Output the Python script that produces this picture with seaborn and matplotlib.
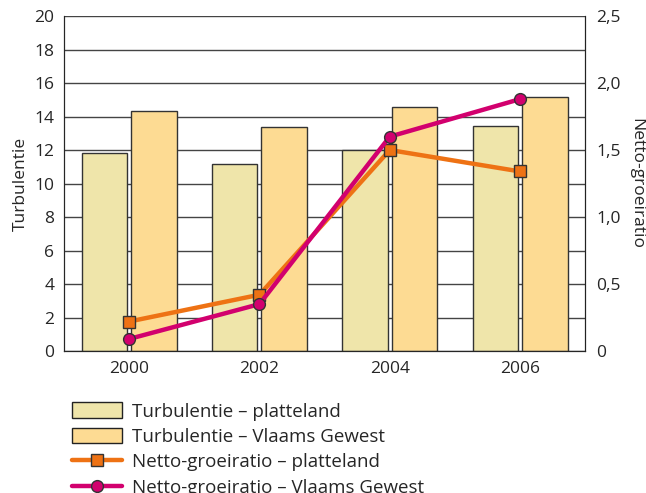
import matplotlib
matplotlib.use('Agg')
import matplotlib.pyplot as plt
import seaborn as sns
import pandas as pd
from matplotlib.patches import Patch
from matplotlib.lines import Line2D
from matplotlib.ticker import FuncFormatter

# data
years = ['2000', '2002', '2004', '2006']
turb_platteland = [11.85, 11.15, 12.0, 13.45]
turb_vlaams = [14.35, 13.4, 14.55, 15.15]
groei_platteland = [0.22, 0.42, 1.50, 1.34]
groei_vlaams = [0.09, 0.35, 1.60, 1.88]

lab_tp = 'Turbulentie – platteland'
lab_tv = 'Turbulentie – Vlaams Gewest'
lab_gp = 'Netto-groeiratio – platteland'
lab_gv = 'Netto-groeiratio – Vlaams Gewest'

col_tp = '#EFE5AA'
col_tv = '#FDDB93'
col_gp = '#EE7214'
col_gv = '#D2006E'

sns.set_style('white')
plt.rcParams['font.family'] = ['Open Sans', 'DejaVu Sans']

bars = pd.DataFrame({
    'jaar': years * 2,
    'waarde': turb_platteland + turb_vlaams,
    'reeks': [lab_tp] * 4 + [lab_tv] * 4,
})

fig = plt.figure(figsize=(6.46, 4.93), dpi=100)
ax = fig.add_axes([0.099, 0.288, 0.807, 0.6795])

ax.set_axisbelow(True)
ax.yaxis.grid(True, color='#444444', lw=1)
sns.barplot(data=bars, x='jaar', y='waarde', hue='reeks', ax=ax,
            palette=[col_tp, col_tv], saturation=1, width=0.76, gap=0.08,
            edgecolor='#333333', linewidth=1, legend=False)
ax.set_ylim(0, 20)
ax.set_xlim(-0.5, 3.5)
ax.set_yticks(range(0, 21, 2))
ax.set_xlabel('')
ax.set_ylabel('Turbulentie', fontsize=12.5, labelpad=4)
ax.tick_params(axis='both', length=0, labelsize=12.5, pad=7)
ax.set_xticks([0.5, 1.5, 2.5], minor=True)
ax.tick_params(axis='x', which='minor', direction='in', length=7, width=1, color='#333333')
for s in ['left', 'bottom', 'right']:
    ax.spines[s].set_color('#222222')
ax.spines['top'].set_visible(False)

ax2 = ax.twinx()
ax2.plot(range(4), groei_platteland, color=col_gp, lw=3.2, marker='s', ms=8,
         mfc=col_gp, mec='#333333', mew=1, zorder=3)
ax2.plot(range(4), groei_vlaams, color=col_gv, lw=3.2, marker='o', ms=8.5,
         mfc=col_gv, mec='#333333', mew=1, zorder=4)
ax2.set_ylim(0, 2.5)
ax2.set_yticks([0, 0.5, 1.0, 1.5, 2.0, 2.5])
ax2.yaxis.set_major_formatter(FuncFormatter(lambda v, p: '0' if v == 0 else f'{v:.1f}'.replace('.', ',')))
ax2.tick_params(axis='y', length=0, labelsize=12.5, pad=8)
ax2.set_ylabel('Netto-groeiratio', fontsize=12.5, rotation=270, labelpad=17)
ax2.spines['top'].set_visible(False)
ax2.spines['right'].set_color('#222222')

handles = [
    Patch(facecolor=col_tp, edgecolor='#222222', lw=1, label=lab_tp),
    Patch(facecolor=col_tv, edgecolor='#222222', lw=1, label=lab_tv),
    Line2D([], [], color=col_gp, lw=3.2, marker='s', ms=8, mfc=col_gp, mec='#333333', label=lab_gp),
    Line2D([], [], color=col_gv, lw=3.2, marker='o', ms=8.5, mfc=col_gv, mec='#333333', label=lab_gv),
]
fig.legend(handles=handles, loc='upper left', bbox_to_anchor=(0.111, 0.184),
           frameon=False, fontsize=13.5, handlelength=2.7, handleheight=0.9,
           labelspacing=0.38, handletextpad=0.5, borderaxespad=0, borderpad=0)

fig.savefig('out.png', dpi=100)
